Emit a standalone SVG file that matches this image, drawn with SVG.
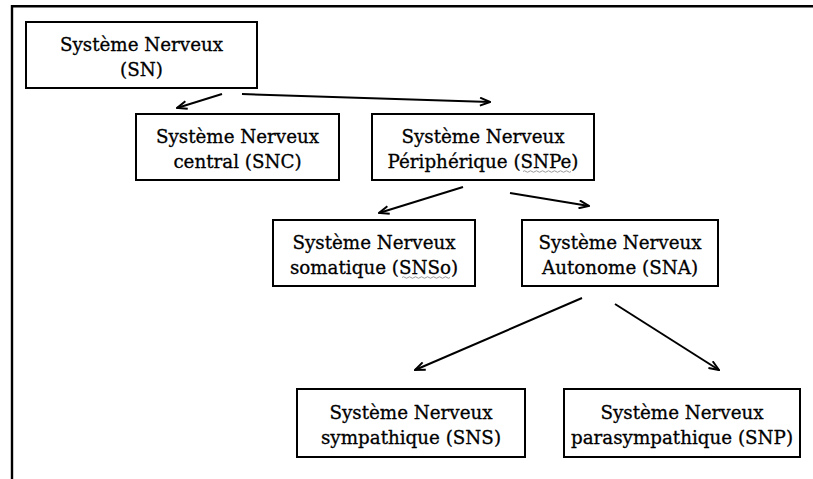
<svg xmlns="http://www.w3.org/2000/svg" width="813" height="479" viewBox="0 0 813 479">
<defs>
<style>
.box{fill:#fff;stroke:#000;stroke-width:2}
.t{font-family:"DejaVu Serif","Liberation Serif",serif;font-size:18.3px;fill:#000;stroke:#000;stroke-width:0.3;text-anchor:middle}
.c{stroke:#000;stroke-width:2;fill:none;marker-end:url(#ah)}
.frame{stroke:#000;stroke-width:2.4;fill:none}
.wavy{stroke:#9a9a9a;stroke-width:1;fill:none}
</style>
<marker id="ah" markerUnits="userSpaceOnUse" viewBox="0 0 12 10" refX="11" refY="5" markerWidth="12" markerHeight="10" orient="auto">
<path d="M1,1 L11,5 L1,9" fill="none" stroke="#000" stroke-width="2"/>
</marker>
</defs>
<rect width="813" height="479" fill="#fff"/>
<path class="frame" d="M12,479 V6.3 H813"/>
<g id="connectors">
<line class="c" x1="222" y1="94" x2="177" y2="108"/>
<line class="c" x1="242" y1="94" x2="490" y2="102"/>
<line class="c" x1="463" y1="187" x2="379" y2="213"/>
<line class="c" x1="510" y1="193" x2="589" y2="206"/>
<line class="c" x1="582" y1="298" x2="415" y2="370"/>
<line class="c" x1="615" y1="304" x2="719" y2="370"/>
</g>
<g id="SN">
<rect class="box" x="26" y="22" width="231" height="66"/>
<text class="t" x="141.5" y="51">Système Nerveux</text>
<text class="t" x="141.5" y="76">(SN)</text>
</g>
<g id="SNC">
<rect class="box" x="136" y="114" width="203" height="66"/>
<text class="t" x="237.5" y="143">Système Nerveux</text>
<text class="t" x="237.5" y="168">central (SNC)</text>
</g>
<g id="SNPe">
<rect class="box" x="372" y="114" width="222" height="66"/>
<text class="t" x="483" y="143">Système Nerveux</text>
<text class="t" x="483" y="168">Périphérique (SNPe)</text>
<path class="wavy" d="M523,171.5 q1.5,-1.5 3,0 t3,0 t3,0 t3,0 t3,0 t3,0 t3,0 t3,0 t3,0 t3,0 t3,0 t3,0 t3,0 t3,0 t3,0 t3,0"/>
</g>
<g id="SNSo">
<rect class="box" x="273" y="220" width="202" height="66"/>
<text class="t" x="374" y="249">Système Nerveux</text>
<text class="t" x="374" y="274">somatique (SNSo)</text>
<path class="wavy" d="M402,277.5 q1.5,-1.5 3,0 t3,0 t3,0 t3,0 t3,0 t3,0 t3,0 t3,0 t3,0 t3,0 t3,0 t3,0 t3,0 t3,0 t3,0 t3,0"/>
</g>
<g id="SNA">
<rect class="box" x="522" y="220" width="196" height="66"/>
<text class="t" x="620" y="249">Système Nerveux</text>
<text class="t" x="620" y="274">Autonome (SNA)</text>
</g>
<g id="SNS">
<rect class="box" x="297" y="389" width="228" height="68"/>
<text class="t" x="411" y="419">Système Nerveux</text>
<text class="t" x="411" y="444">sympathique (SNS)</text>
</g>
<g id="SNP">
<rect class="box" x="564" y="389" width="236" height="68"/>
<text class="t" x="682" y="419">Système Nerveux</text>
<text class="t" x="682" y="444">parasympathique (SNP)</text>
</g>
</svg>
